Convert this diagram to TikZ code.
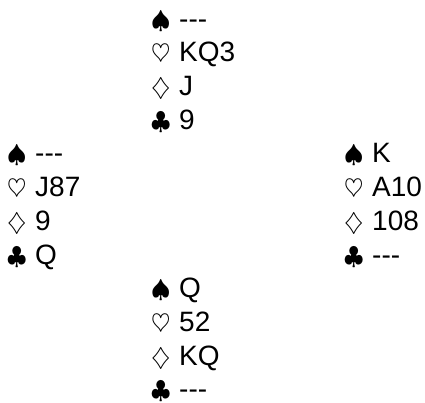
\documentclass[tikz,border=0pt]{standalone}
\usepackage{fontspec}
\setmainfont{Liberation Sans}
\newcommand{\suit}[1]{\makebox[28pt][l]{\fontsize{25}{25}\selectfont$#1$}}
\newcommand{\none}{-{}-{}-}
\tikzset{cardline/.style={anchor=base west, inner sep=0pt, font=\fontsize{28}{33.7}\selectfont}}
\begin{document}
\begin{tikzpicture}[x=1pt, y=-1pt]
	\useasboundingbox (0, 0) rectangle (425, 403);
	% north
	\node[cardline] (n-s) at (151, 28.1) {\suit{\spadesuit}\none};
	\node[cardline] (n-h) at (151, 61.8) {\suit{\heartsuit}KQ3};
	\node[cardline] (n-d) at (151, 95.5) {\suit{\diamondsuit}J};
	\node[cardline] (n-c) at (151, 129.2) {\suit{\clubsuit}9};
	% west
	\node[cardline] (w-s) at (7, 162.9) {\suit{\spadesuit}\none};
	\node[cardline] (w-h) at (7, 196.6) {\suit{\heartsuit}J87};
	\node[cardline] (w-d) at (7, 230.3) {\suit{\diamondsuit}9};
	\node[cardline] (w-c) at (7, 264.0) {\suit{\clubsuit}Q};
	% east
	\node[cardline] (e-s) at (344, 162.9) {\suit{\spadesuit}K};
	\node[cardline] (e-h) at (344, 196.6) {\suit{\heartsuit}A10};
	\node[cardline] (e-d) at (344, 230.3) {\suit{\diamondsuit}108};
	\node[cardline] (e-c) at (344, 264.0) {\suit{\clubsuit}\none};
	% south
	\node[cardline] (s-s) at (151, 297.7) {\suit{\spadesuit}Q};
	\node[cardline] (s-h) at (151, 331.4) {\suit{\heartsuit}52};
	\node[cardline] (s-d) at (151, 365.1) {\suit{\diamondsuit}KQ};
	\node[cardline] (s-c) at (151, 398.8) {\suit{\clubsuit}\none};
\end{tikzpicture}
\end{document}
